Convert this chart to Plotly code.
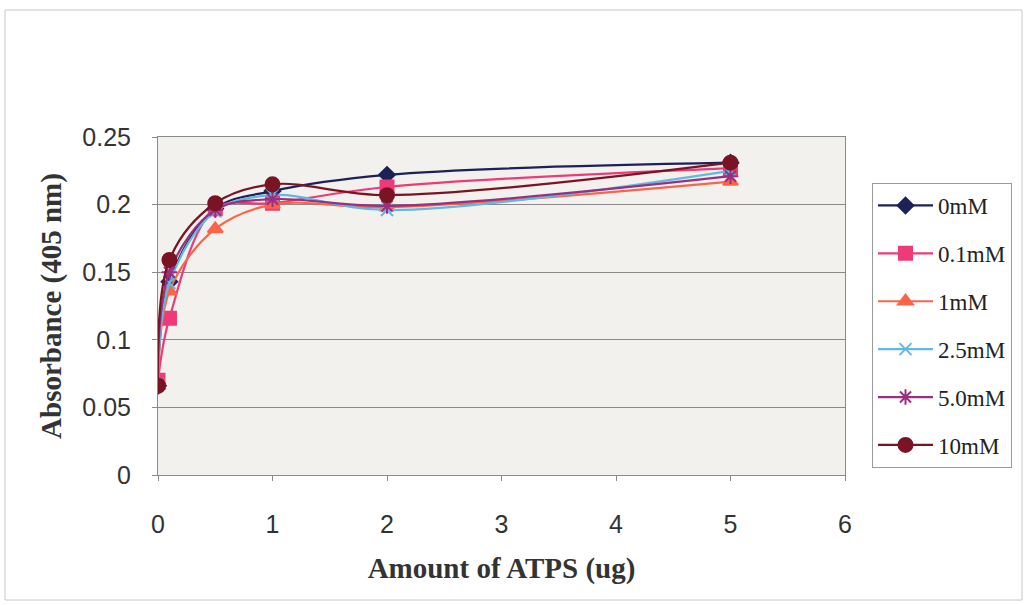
import plotly.graph_objects as go

# ATPS amount (ug) on the x axis
atps_ug = [0, 0.1, 0.5, 1, 2, 5]

# Absorbance at 405 nm for each concentration
abs_0mM = [0.066, 0.143, 0.197, 0.210, 0.222, 0.231]
abs_01mM = [0.070, 0.116, 0.197, 0.201, 0.213, 0.227]
abs_1mM = [0.066, 0.136, 0.182, 0.200, 0.198, 0.217]
abs_25mM = [0.067, 0.142, 0.195, 0.207, 0.196, 0.225]
abs_5mM = [0.067, 0.150, 0.196, 0.204, 0.199, 0.221]
abs_10mM = [0.066, 0.159, 0.201, 0.215, 0.207, 0.231]

series_names = ["0mM", "0.1mM", "1mM", "2.5mM", "5.0mM", "10mM"]
series_values = [abs_0mM, abs_01mM, abs_1mM, abs_25mM, abs_5mM, abs_10mM]

x_tick_vals = [0, 1, 2, 3, 4, 5, 6]
y_tick_vals = [0, 0.05, 0.1, 0.15, 0.2, 0.25]
y_tick_text = ["0", "0.05", "0.1", "0.15", "0.2", "0.25"]

colors = ["#1c2158", "#ee3a78", "#fa6548", "#5fb9e0", "#9a2f80", "#7a1424"]
symbols = ["diamond", "square", "triangle-up", "x-thin-open", "asterisk-open", "circle"]
sizes = [12, 13, 13, 12, 13, 14]

fig = go.Figure()
for i, (name, vals) in enumerate(zip(series_names, series_values)):
    fig.add_trace(go.Scatter(
        x=atps_ug, y=vals, name=name, legendgroup=name,
        mode="lines+markers",
        line=dict(color=colors[i], width=2.2, shape="spline", smoothing=1.0),
        marker=dict(symbol=symbols[i], size=sizes[i], color=colors[i],
                    line=dict(color=colors[i], width=2)),
    ))

W, H = 1028, 605
L, R, T, B = 158, 845, 137, 475
pw, ph = R - L, B - T

def px(xp):
    return (xp - L) / pw

def py(yp):
    return (B - yp) / ph

fig.update_layout(
    width=W, height=H,
    margin=dict(l=L, r=W - R, t=T, b=H - B),
    paper_bgcolor="white",
    plot_bgcolor="#f2f1ed",
    showlegend=True,
    legend=dict(
        x=px(872), y=py(183), xanchor="left", yanchor="top",
        bgcolor="white", bordercolor="#9a9a9a", borderwidth=1,
        font=dict(family="Liberation Serif", size=23, color="#222"),
        tracegroupgap=15, itemwidth=55,
    ),
    xaxis=dict(
        range=[0, 6], tickvals=x_tick_vals, showgrid=False, zeroline=False,
        showline=True, linecolor="#8a8a8a", linewidth=1, mirror=True,
        ticks="outside", ticklen=5, tickcolor="#8a8a8a",
        ticklabelstandoff=22,
        tickfont=dict(family="Liberation Sans", size=25, color="#333"),
        title=dict(text="<b>Amount of ATPS (ug)</b>", standoff=20,
                   font=dict(family="Liberation Serif", size=29, color="#333")),
    ),
    yaxis=dict(
        range=[0, 0.25], tickvals=y_tick_vals, ticktext=y_tick_text,
        showgrid=True, gridcolor="#8a8a8a", gridwidth=1, zeroline=False,
        showline=True, linecolor="#8a8a8a", linewidth=1, mirror=True,
        ticks="outside", ticklen=5, tickcolor="#8a8a8a",
        ticklabelstandoff=16,
        tickfont=dict(family="Liberation Sans", size=25, color="#333"),
        title=dict(text="<b>Absorbance (405 nm)</b>", standoff=12,
                   font=dict(family="Liberation Serif", size=29, color="#333")),
    ),
)

# outer chart frame
fig.add_shape(type="rect", xref="paper", yref="paper",
              x0=px(5), x1=px(1022), y0=py(600), y1=py(10),
              line=dict(color="#c8c8c8", width=1), fillcolor="rgba(0,0,0,0)",
              layer="below")

fig.write_html("out.html")
